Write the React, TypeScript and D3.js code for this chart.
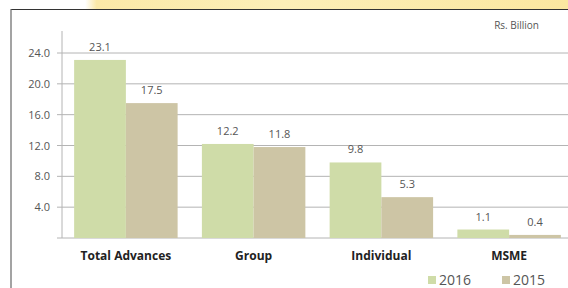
import React from 'react';
import * as d3 from 'd3';

const categories = ['Total Advances', 'Group', 'Individual', 'MSME'];
const series2016 = [23.1, 12.2, 9.8, 1.1];
const series2015 = [17.5, 11.8, 5.3, 0.4];
const seriesNames = ['2016', '2015'];
const yTicks = [0, 4, 8, 12, 16, 20, 24];

const colors = ['#cfdca8', '#cdc5a5'];

export default function App() {
  const width = 568;
  const height = 288;
  const x0 = 62;
  const yBase = 238;

  const xScale = d3.scaleBand<string>()
    .domain(categories)
    .range([x0, 573])
    .paddingInner(0.19)
    .paddingOuter(0.095);

  const xInner = d3.scaleBand<string>()
    .domain(seriesNames)
    .range([0, xScale.bandwidth()]);

  const yScale = d3.scaleLinear().domain([0, 24]).range([yBase, 53]);

  const rows = categories.map((c, i) => ({ cat: c, values: [series2016[i], series2015[i]] }));
  const font = "'Open Sans', 'Noto Sans', sans-serif";

  return (
    <svg width={width} height={height} style={{ position: 'absolute', left: 0, top: 0 }} fontFamily={font}>
      <defs>
        <linearGradient id="topband" x1="0" y1="0" x2="1" y2="0">
          <stop offset="0%" stopColor="#ffffff" />
          <stop offset="15%" stopColor="#ffffff" />
          <stop offset="17%" stopColor="#fbe9a8" />
          <stop offset="50%" stopColor="#fcefb8" />
          <stop offset="100%" stopColor="#fbe7a0" />
        </linearGradient>
      </defs>
      <rect x={0} y={0} width={width} height={height} fill="#ffffff" />
      <rect x={0} y={0} width={width} height={9} fill="url(#topband)" />
      <line x1={11} y1={9.5} x2={width} y2={9.5} stroke="#333" strokeWidth={1.2} />
      <line x1={11} y1={9} x2={11} y2={height} stroke="#666" strokeWidth={1.2} />

      {/* gridlines */}
      {yTicks.map(t => (
        <g key={t}>
          <line x1={57} x2={width} y1={yScale(t)} y2={yScale(t)} stroke="#b4b4b4" strokeWidth={1} />
          {t > 0 && (
            <text x={50} y={yScale(t) + 4} textAnchor="end" fontSize={11} fill="#555">
              {t.toFixed(1)}
            </text>
          )}
        </g>
      ))}
      <line x1={x0} x2={x0} y1={31} y2={yBase} stroke="#b4b4b4" strokeWidth={1} />

      <text x={539} y={29} textAnchor="end" fontSize={10} fill="#555">Rs. Billion</text>

      {/* bars */}
      {rows.map(r => (
        <g key={r.cat} transform={`translate(${xScale(r.cat)},0)`}>
          {r.values.map((v, j) => {
            const bx = xInner(seriesNames[j]) || 0;
            const by = yScale(v);
            return (
              <g key={j}>
                <rect x={bx} y={by} width={xInner.bandwidth()} height={yBase - by} fill={colors[j]} />
                <text
                  x={bx + xInner.bandwidth() / 2}
                  y={Math.min(by - 9, 226)}
                  textAnchor="middle"
                  fontSize={11}
                  fill="#555"
                >
                  {v.toFixed(1)}
                </text>
              </g>
            );
          })}
          <text
            x={xScale.bandwidth() / 2}
            y={260}
            textAnchor="middle"
            fontSize={12}
            fontWeight="bold"
            fill="#222"
          >
            {r.cat}
          </text>
        </g>
      ))}

      {/* legend */}
      {seriesNames.map((s, i) => (
        <g key={s} transform={`translate(${428 + i * 74},0)`}>
          <rect x={0} y={276} width={8} height={8} fill={colors[i]} />
          <text x={11} y={285} fontSize={14} fill="#555">{s}</text>
        </g>
      ))}
    </svg>
  );
}
